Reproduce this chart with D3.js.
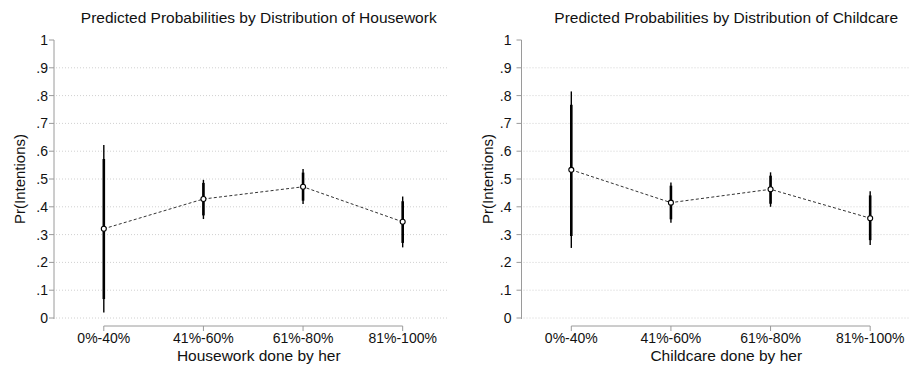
<!DOCTYPE html>
<meta charset="utf-8">
<style>
body { margin: 0; background: #fff; }
text { font-family: "Liberation Sans", Arial, sans-serif; fill: #111; }
.grid line { stroke: #d0d0d0; stroke-dasharray: 1,2; }
.axis-line { stroke: #9a9a9a; stroke-width: 1; }
.conn { fill: none; stroke: #333; stroke-width: 1; stroke-dasharray: 3,2.2; }
.ci-outer { stroke: #000; stroke-width: 1.4; }
.ci-inner { stroke: #000; stroke-width: 2.6; }
.pt { fill: #fff; stroke: #000; stroke-width: 1.1; }
</style>
<svg width="909" height="367"></svg>
<script src="https://cdn.jsdelivr.net/npm/d3@7"></script>
<script>

var categories = ["0%-40%", "41%-60%", "61%-80%", "81%-100%"];
var yTicks = [0, .1, .2, .3, .4, .5, .6, .7, .8, .9, 1];

// Housework panel
var hwEst   = [0.321, 0.428, 0.472, 0.346];
var hwLo95  = [0.020, 0.356, 0.410, 0.254];
var hwHi95  = [0.622, 0.497, 0.536, 0.437];
var hwLo90  = [0.068, 0.369, 0.422, 0.270];
var hwHi90  = [0.572, 0.486, 0.523, 0.420];

// Childcare panel
var ccEst   = [0.533, 0.415, 0.463, 0.359];
var ccLo95  = [0.252, 0.343, 0.400, 0.263];
var ccHi95  = [0.815, 0.487, 0.524, 0.456];
var ccLo90  = [0.295, 0.355, 0.411, 0.280];
var ccHi90  = [0.767, 0.476, 0.512, 0.441];

var svg = d3.select("svg");

function panel(opt) {
    var g = svg.append("g");

    var x = d3.scaleLinear().domain([0.5, 4.46]).range([opt.left, opt.left + 394.5]);
    var y = d3.scaleLinear().domain([0, 1]).range([318, 40]);

    // grid
    g.append("g").attr("class", "grid")
      .selectAll("line")
      .data(yTicks.filter(function(d) { return d < 1; }))
      .enter().append("line")
        .attr("x1", x(0.5) + 2).attr("x2", x(4.46))
        .attr("y1", y).attr("y2", y);

    // y axis
    g.append("line").attr("class", "axis-line")
        .attr("x1", x(0.5)).attr("x2", x(0.5))
        .attr("y1", y(1)).attr("y2", y(0) + 1);
    g.selectAll(".ytick").data(yTicks).enter().append("line")
        .attr("class", "axis-line")
        .attr("x1", x(0.5) - 5).attr("x2", x(0.5))
        .attr("y1", y).attr("y2", y);
    g.selectAll(".ylab").data(yTicks).enter().append("text")
        .attr("x", x(0.5) - opt.labGap)
        .attr("y", function(d) { return y(d) + 5; })
        .attr("text-anchor", "end")
        .style("font-size", "14px")
        .text(function(d) { return d === 0 ? "0" : d === 1 ? "1" : d3.format(".1f")(d).replace(/^0/, ""); });

    // x axis
    var xa = 326;
    g.append("line").attr("class", "axis-line")
        .attr("x1", x(1)).attr("x2", x(4))
        .attr("y1", xa).attr("y2", xa);
    g.selectAll(".xtick").data(categories).enter().append("line")
        .attr("class", "axis-line")
        .attr("x1", function(d, i) { return x(i + 1); })
        .attr("x2", function(d, i) { return x(i + 1); })
        .attr("y1", xa).attr("y2", xa + 5);
    g.selectAll(".xlab").data(categories).enter().append("text")
        .attr("x", function(d, i) { return x(i + 1); })
        .attr("y", 342.5)
        .attr("text-anchor", "middle")
        .style("font-size", "14px")
        .text(function(d) { return d; });

    var mid = (x(1) + x(4)) / 2 + 5.5;
    g.append("text")
        .attr("x", mid).attr("y", 361)
        .attr("text-anchor", "middle")
        .style("font-size", "15.5px")
        .text(opt.xTitle);
    g.append("text")
        .attr("x", mid).attr("y", 22.5)
        .attr("text-anchor", "middle")
        .style("font-size", "15.5px")
        .text(opt.title);
    g.append("text")
        .attr("transform", "translate(" + (opt.yLabX) + "," + ((y(0) + y(1)) / 2) + ") rotate(-90)")
        .attr("dy", "0.35em")
        .attr("text-anchor", "middle")
        .style("font-size", "15px")
        .text("Pr(Intentions)");

    // confidence intervals
    var idx = d3.range(categories.length);
    g.selectAll(".ci-outer").data(idx).enter().append("line")
        .attr("class", "ci-outer")
        .attr("x1", function(i) { return x(i + 1); })
        .attr("x2", function(i) { return x(i + 1); })
        .attr("y1", function(i) { return y(opt.lo95[i]); })
        .attr("y2", function(i) { return y(opt.hi95[i]); });
    g.selectAll(".ci-inner").data(idx).enter().append("line")
        .attr("class", "ci-inner")
        .attr("x1", function(i) { return x(i + 1); })
        .attr("x2", function(i) { return x(i + 1); })
        .attr("y1", function(i) { return y(opt.lo90[i]); })
        .attr("y2", function(i) { return y(opt.hi90[i]); });

    // connecting line
    var line = d3.line()
        .x(function(d, i) { return x(i + 1); })
        .y(function(d) { return y(d); });
    g.append("path").attr("class", "conn").attr("d", line(opt.est));

    g.selectAll(".pt").data(opt.est).enter().append("circle")
        .attr("class", "pt")
        .attr("cx", function(d, i) { return x(i + 1); })
        .attr("cy", y)
        .attr("r", 2.5);
}

panel({
    left: 54, labGap: 6, yLabX: 20,
    title: "Predicted Probabilities by Distribution of Housework",
    xTitle: "Housework done by her",
    est: hwEst, lo95: hwLo95, hi95: hwHi95, lo90: hwLo90, hi90: hwHi90
});

panel({
    left: 521.5, labGap: 10, yLabX: 487.5,
    title: "Predicted Probabilities by Distribution of Childcare",
    xTitle: "Childcare done by her",
    est: ccEst, lo95: ccLo95, hi95: ccHi95, lo90: ccLo90, hi90: ccHi90
});

</script>
